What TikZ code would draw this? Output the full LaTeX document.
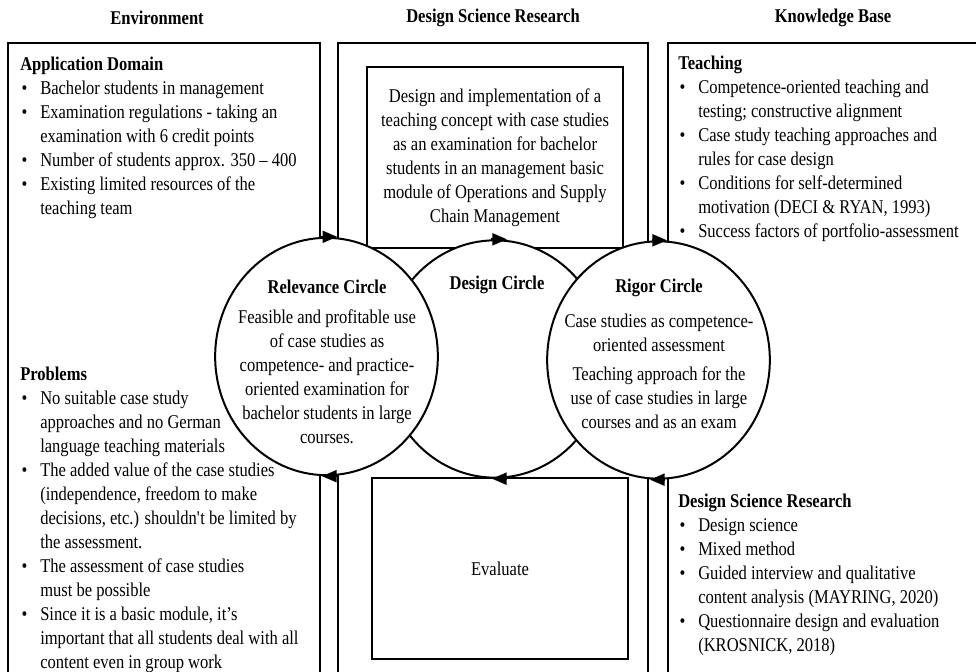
\documentclass[tikz,border=0pt]{standalone}
\usepackage{fontspec}
\setmainfont{Liberation Serif}[FakeStretch=0.85]
\usetikzlibrary{shapes.geometric,arrows.meta}

\newcommand\bodyfont{\fontsize{14.6pt}{18pt}\selectfont}
\newcommand\itm{\hspace*{1pt}\textbullet}

\tikzset{
  head/.style={font=\bodyfont\bfseries, inner sep=0pt},
  pillar/.style={draw, line width=2.2pt, anchor=north west, outer sep=0pt, minimum height=525pt},
  panel/.style={draw, line width=1.5pt, anchor=north west, outer sep=0pt, inner sep=0pt,
                minimum width=192pt, minimum height=135.75pt, align=center, font=\bodyfont},
  loopring/.style={ellipse, draw, fill=white, line width=1.5pt, inner sep=0pt,
                   minimum width=167pt, minimum height=178pt},
  bullets/.style={anchor=base west, inner sep=0pt, font=\bodyfont},
  note/.style={anchor=base, inner sep=0pt, font=\bodyfont},
  spin/.style={line width=1.5pt, -{Triangle[length=11pt,width=9pt]}},
}

\begin{document}
\begin{tikzpicture}[x=0.75pt,y=-0.75pt]
  \useasboundingbox (0,0) rectangle (976,672);
  \clip (0,0) rectangle (976,672);

  % the three columns
  \node[pillar, minimum width=234pt] (env) at (8,43) {};
  \node[pillar, minimum width=232.5pt] (dsr) at (338,43) {};
  \node[pillar, minimum width=242pt] (kb) at (668,43) {};

  \node[head] (envhead) at (157,18) {Environment};
  \node[head] (dsrhead) at (493,18) {Design Science Research};
  \node[head] (kbhead) at (833,18) {Knowledge Base};

  % build and evaluate
  \node[panel] (build) at (367,67) {\begin{tabular}{@{}c@{}}
    Design and implementation of a\\
    teaching concept with case studies\\
    as an examination for bachelor\\
    students in an management basic\\
    module of Operations and Supply\\
    Chain Management\end{tabular}};
  \node[panel] (evaluate) at (372,478) {Evaluate};

  % the three cycles
  \node[loopring] (design) at (495,359) {};
  \node[loopring] (relevance) at (326.5,356.5) {};
  \node[loopring] (rigor) at (658.5,360) {};

  \draw[spin] ([xshift=-4pt]relevance.north) -- ([xshift=8pt]relevance.north);
  \draw[spin] ([xshift=8pt]relevance.south) -- ([xshift=-3.4pt]relevance.south);
  \draw[spin] ([xshift=-3pt]design.north) -- ([xshift=9pt]design.north);
  \draw[spin] ([xshift=9pt]design.south) -- ([xshift=-2.3pt]design.south);
  \draw[spin] ([xshift=-5pt]rigor.north) -- ([xshift=6.4pt]rigor.north);
  \draw[spin] ([xshift=5pt]rigor.south) -- ([xshift=-6.4pt]rigor.south);

  \node[head] (reltitle) at (327,287) {Relevance Circle};
  \node[note] (reltext) at (327,323) {\begin{tabular}[t]{@{}c@{}}
    Feasible and profitable use\\
    of case studies as\\
    competence- and practice-\\
    oriented examination for\\
    bachelor students in large\\
    courses.\end{tabular}};
  \node[head] (destitle) at (497,285) {Design Circle};
  \node[head] (rigtitle) at (659,288) {Rigor Circle};
  \node[note] (rigtext) at (659,327) {\begin{tabular}[t]{@{}c@{}}
    Case studies as competence-\\
    oriented assessment\\[4pt]
    Teaching approach for the\\
    use of case studies in large\\
    courses and as an exam\end{tabular}};

  % environment
  \node[bullets] (appdomain) at (20,70) {\begin{tabular}[t]{@{}p{15pt}@{}l@{}}
    \multicolumn{2}{@{}l@{}}{\textbf{Application Domain}}\\
    \itm & Bachelor students in management\\
    \itm & Examination regulations - taking an\\
         & examination with 6 credit points\\
    \itm & Number of students approx. 350 -- 400\\
    \itm & Existing limited resources of the\\
         & teaching team\end{tabular}};
  \node[bullets] (problems) at (20,380) {\begin{tabular}[t]{@{}p{15pt}@{}l@{}}
    \multicolumn{2}{@{}l@{}}{\textbf{Problems}}\\
    \itm & No suitable case study\\
         & approaches and no German\\
         & language teaching materials\\
    \itm & The added value of the case studies\\
         & (independence, freedom to make\\
         & decisions, etc.) shouldn\textquotesingle t be limited by\\
         & the assessment.\\
    \itm & The assessment of case studies\\
         & must be possible\\
    \itm & Since it is a basic module, it's\\
         & important that all students deal with all\\
         & content even in group work\end{tabular}};

  % knowledge base
  \node[bullets] (teaching) at (678,69) {\begin{tabular}[t]{@{}p{15pt}@{}l@{}}
    \multicolumn{2}{@{}l@{}}{\textbf{Teaching}}\\
    \itm & Competence-oriented teaching and\\
         & testing; constructive alignment\\
    \itm & Case study teaching approaches and\\
         & rules for case design\\
    \itm & Conditions for self-determined\\
         & motivation (DECI \& RYAN, 1993)\\
    \itm & Success factors of portfolio-assessment\end{tabular}};
  \node[bullets] (methods) at (678,507) {\begin{tabular}[t]{@{}p{15pt}@{}l@{}}
    \multicolumn{2}{@{}l@{}}{\textbf{Design Science Research}}\\
    \itm & Design science\\
    \itm & Mixed method\\
    \itm & Guided interview and qualitative\\
         & content analysis (MAYRING, 2020)\\
    \itm & Questionnaire design and evaluation\\
         & (KROSNICK, 2018)\end{tabular}};
\end{tikzpicture}
\end{document}
